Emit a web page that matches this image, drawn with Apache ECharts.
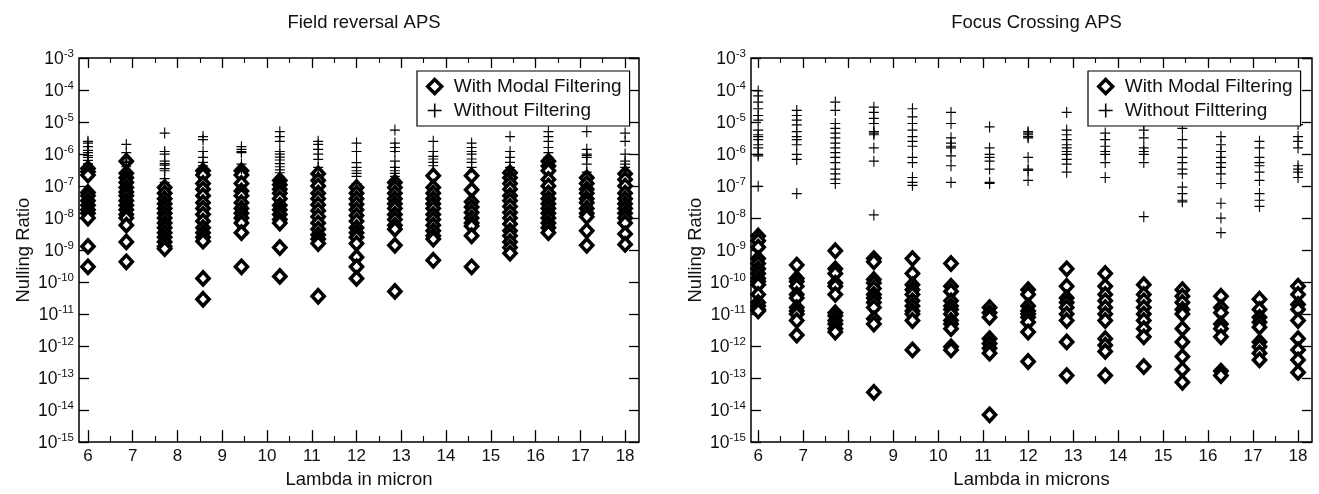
<!DOCTYPE html>
<html>
<head>
<meta charset="utf-8">
<style>
  html, body { margin: 0; padding: 0; background: #fff; }
  #chart { width: 1319px; height: 494px; }
</style>
<script src="https://cdn.jsdelivr.net/npm/echarts@6/dist/echarts.min.js"></script>
</head>
<body>
<div id="chart"></div>
<script>
// Wavelength columns (microns) shared by both panels
const lambdas = [6, 6.857, 7.714, 8.571, 9.429, 10.286, 11.143, 12, 12.857, 13.714, 14.571, 15.429, 16.286, 17.143, 18];
const xMajorTicks = [6, 7, 8, 9, 10, 11, 12, 13, 14, 15, 16, 17, 18];
const xMinorTicks = [6.5, 7.5, 8.5, 9.5, 10.5, 11.5, 12.5, 13.5, 14.5, 15.5, 16.5, 17.5];

// Field reversal APS — null ratios per wavelength column
const fieldModal = [
  [3.5e-7, 2.8e-7, 2.2e-7, 6.3e-8, 5e-8, 3.5e-8, 2.5e-8, 1.8e-8, 1.4e-8, 1e-8, 1.3e-9, 3e-10],
  [6e-7, 2.5e-7, 1.8e-7, 1.3e-7, 9e-8, 6.5e-8, 5e-8, 3.5e-8, 2.5e-8, 1.8e-8, 1.3e-8, 1e-8, 6e-9, 1.8e-9, 4.3e-10],
  [9e-8, 6e-8, 4e-8, 2.8e-8, 2e-8, 1.4e-8, 1e-8, 7e-9, 5e-9, 3.5e-9, 2.5e-9, 1.8e-9, 1.3e-9, 1.1e-9],
  [3e-7, 2.2e-7, 1.2e-7, 8e-8, 5e-8, 3e-8, 2e-8, 1.3e-8, 8e-9, 5e-9, 3.5e-9, 2.5e-9, 1.9e-9, 1.3e-10, 2.9e-11],
  [3e-7, 2.2e-7, 1.2e-7, 7e-8, 5e-8, 3e-8, 2e-8, 1.4e-8, 1e-8, 7e-9, 3.5e-9, 3e-10],
  [1.5e-7, 1.1e-7, 8e-8, 6e-8, 4e-8, 2.5e-8, 1.8e-8, 1.3e-8, 9e-9, 7e-9, 1.2e-9, 1.5e-10],
  [2.4e-7, 1.5e-7, 1e-7, 6e-8, 4e-8, 2.6e-8, 1.7e-8, 1.1e-8, 7e-9, 4.5e-9, 3e-9, 2.2e-9, 1.6e-9, 3.6e-11],
  [9e-8, 6e-8, 4e-8, 2.7e-8, 1.8e-8, 1.2e-8, 8e-9, 5e-9, 3.5e-9, 2.5e-9, 1.6e-9, 6e-10, 3e-10, 1.3e-10],
  [1.3e-7, 9e-8, 6e-8, 4e-8, 2.8e-8, 2e-8, 1.3e-8, 9e-9, 6e-9, 4.5e-9, 1.4e-9, 5.1e-11],
  [2.1e-7, 9e-8, 6e-8, 4e-8, 2.8e-8, 2e-8, 1.3e-8, 9e-9, 6e-9, 4e-9, 2.8e-9, 2.2e-9, 4.8e-10],
  [2.1e-7, 7.6e-8, 3.2e-8, 2.2e-8, 1.5e-8, 1e-8, 7e-9, 5.6e-9, 2.8e-9, 3e-10],
  [2.6e-7, 1.8e-7, 1.2e-7, 8e-8, 5e-8, 3.5e-8, 2.3e-8, 1.5e-8, 1e-8, 6.5e-9, 4e-9, 2.8e-9, 1.8e-9, 1.2e-9, 8e-10],
  [6e-7, 4.2e-7, 3e-7, 1.6e-7, 1e-7, 6e-8, 4e-8, 2.8e-8, 2e-8, 1.4e-8, 1e-8, 7e-9, 5e-9, 3.5e-9],
  [1.8e-7, 1.2e-7, 8e-8, 6e-8, 4e-8, 3e-8, 2e-8, 1.4e-8, 1.1e-8, 4e-9, 1.4e-9],
  [2.4e-7, 1.6e-7, 1e-7, 6e-8, 4e-8, 2.8e-8, 2e-8, 1.4e-8, 1e-8, 7e-9, 3.2e-9, 1.5e-9]
];
const fieldNoFilter = [
  [2.5e-6, 2.2e-6, 1.7e-6, 1.3e-6, 1.1e-6, 9e-7, 7.8e-7, 6.3e-7, 5e-7, 4e-7],
  [2e-6, 1.1e-6, 7e-7, 6e-7, 5.5e-7, 4e-7],
  [4.5e-6, 1.2e-6, 1e-6, 6e-7, 5e-7, 4.5e-7, 3.5e-7, 3e-7, 1.7e-7, 1.3e-7],
  [3.5e-6, 2.8e-6, 1.2e-6, 7.8e-7, 5.5e-7, 4.3e-7],
  [1.7e-6, 1.4e-6, 1.2e-6, 1.1e-6, 4.8e-7, 3.5e-7],
  [5e-6, 3.5e-6, 2.5e-6, 1.2e-6, 1e-6, 8e-7, 6.5e-7, 5e-7, 4e-7, 3.2e-7, 2.6e-7, 1.9e-7],
  [2.5e-6, 2e-6, 1.4e-6, 1e-6, 6.8e-7, 3.8e-7],
  [2.2e-6, 1.2e-6, 5.4e-7, 3.8e-7, 3e-7, 2.5e-7, 2e-7, 1.2e-7],
  [5.6e-6, 2.2e-6, 1.6e-6, 1.2e-6, 6e-7, 3.8e-7, 3e-7, 2.5e-7, 2e-7, 1.6e-7],
  [2.5e-6, 1.2e-6, 8.5e-7, 7e-7, 5.5e-7, 4.3e-7],
  [2.2e-6, 1.6e-6, 1.2e-6, 1e-6, 7e-7, 5.5e-7, 3.8e-7],
  [3.5e-6, 1.2e-6, 7.8e-7, 5.5e-7, 3.8e-7, 3e-7, 2.1e-7],
  [5e-6, 3.5e-6, 2.5e-6, 1.6e-6, 1.1e-6, 7.8e-7],
  [5e-6, 1.4e-6, 1e-6, 9e-7, 7.8e-7, 4.8e-7, 2.7e-7],
  [4.5e-6, 2.5e-6, 1e-6, 6e-7, 4.8e-7, 3.8e-7, 3e-7]
];

// Focus Crossing APS — null ratios per wavelength column
const focusModal = [
  [2.75e-9, 1.95e-9, 1.23e-9, 5.4e-10, 3.8e-10, 2.6e-10, 1.85e-10, 1.3e-10, 1.05e-10, 8.3e-11, 4.1e-11, 2.3e-11, 1.8e-11, 1.4e-11, 1.25e-11],
  [3.4e-10, 1.3e-10, 1.05e-10, 7.4e-11, 4.1e-11, 3.2e-11, 1.6e-11, 1.25e-11, 1e-11, 6.3e-12, 2.2e-12],
  [9.5e-10, 2.6e-10, 1.85e-10, 9.3e-11, 7.4e-11, 4.1e-11, 1.1e-11, 8.9e-12, 6.3e-12, 4.9e-12, 3.5e-12, 2.75e-12],
  [5.4e-10, 4.3e-10, 1.2e-10, 9.3e-11, 6.3e-11, 4.1e-11, 3.2e-11, 2.3e-11, 1.6e-11, 7.1e-12, 4.9e-12, 3.6e-14],
  [5.4e-10, 1.85e-10, 8.3e-11, 5.8e-11, 4.1e-11, 2.6e-11, 1.8e-11, 1.25e-11, 1e-11, 6.3e-12, 7.6e-13],
  [3.8e-10, 7.4e-11, 5.1e-11, 2.6e-11, 1.8e-11, 1.4e-11, 1e-11, 6.3e-12, 4.9e-12, 3.5e-12, 9.5e-13, 7.6e-13],
  [1.6e-11, 1.1e-11, 7.9e-12, 1.7e-12, 1.2e-12, 8.5e-13, 6e-13, 7.1e-15],
  [5.8e-11, 4.1e-11, 1.8e-11, 1.25e-11, 1e-11, 7.9e-12, 5.6e-12, 2.75e-12, 3.3e-13],
  [2.6e-10, 7.4e-11, 3.2e-11, 2.3e-11, 1.6e-11, 1e-11, 6.3e-12, 1.35e-12, 1.2e-13],
  [1.85e-10, 7.4e-11, 4.1e-11, 2.6e-11, 1.6e-11, 1e-11, 6.3e-12, 1.7e-12, 1.07e-12, 6.8e-13, 1.2e-13],
  [8.3e-11, 4.1e-11, 2.6e-11, 1.6e-11, 1e-11, 6.3e-12, 3.5e-12, 1.95e-12, 2.3e-13],
  [5.8e-11, 3.6e-11, 2.3e-11, 1.4e-11, 1e-11, 3.5e-12, 1.35e-12, 4.7e-13, 1.85e-13, 7.4e-14],
  [3.6e-11, 1.6e-11, 1.1e-11, 4.9e-12, 3.5e-12, 1.95e-12, 1.65e-13, 1.2e-13],
  [2.9e-11, 1.4e-11, 7.9e-12, 5.6e-12, 3.9e-12, 1.35e-12, 9.5e-13, 6e-13, 3.7e-13],
  [7.4e-11, 4.1e-11, 2e-11, 1.4e-11, 6.3e-12, 1.7e-12, 7.6e-13, 3.7e-13, 1.5e-13]
];
const focusNoFilter = [
  [9.3e-5, 6.6e-5, 4.2e-5, 2.6e-5, 1.6e-5, 1.15e-5, 5.6e-6, 4e-6, 3.5e-6, 2.8e-6, 1.95e-6, 1.55e-6, 9.8e-7, 8.7e-7, 9.8e-8],
  [2.3e-5, 1.6e-5, 1.15e-5, 8.1e-6, 5e-6, 3.5e-6, 2.8e-6, 1.95e-6, 9.8e-7, 6.8e-7, 5.8e-8],
  [4.2e-5, 2.3e-5, 9e-6, 6.3e-6, 4.5e-6, 3.2e-6, 2.2e-6, 1.55e-6, 1.1e-6, 7.8e-7, 5.4e-7, 3.4e-7, 2.4e-7, 1.65e-7, 1.2e-7],
  [2.9e-5, 2e-5, 1.3e-5, 9e-6, 5e-6, 4.5e-6, 4e-6, 1.55e-6, 6e-7, 1.25e-8],
  [2.6e-5, 1.45e-5, 9e-6, 5.6e-6, 3.5e-6, 2.5e-6, 1.75e-6, 7.8e-7, 5.4e-7, 1.85e-7, 1.3e-7, 1.05e-7],
  [2e-5, 9e-6, 3.2e-6, 2.2e-6, 1.75e-6, 1.55e-6, 8.7e-7, 4.3e-7, 1.3e-7],
  [7e-6, 1.55e-6, 9.8e-7, 7.8e-7, 6e-7, 3.4e-7, 1.3e-7, 1.2e-7],
  [5e-6, 4.5e-6, 4e-6, 3.5e-6, 3.2e-6, 7.8e-7, 3.4e-7, 3.1e-7, 1.5e-7],
  [2e-5, 5.6e-6, 4e-6, 2.8e-6, 1.95e-6, 1.55e-6, 1.2e-6, 9.8e-7, 6.8e-7, 4.8e-7, 2.7e-7],
  [4.5e-6, 2.8e-6, 1.75e-6, 1.2e-6, 9.8e-7, 5.4e-7, 1.85e-7],
  [9e-6, 5.6e-6, 3.2e-6, 1.55e-6, 1.2e-6, 9.8e-7, 5.4e-7, 1.1e-8],
  [6.3e-6, 2.8e-6, 1.55e-6, 7.8e-7, 5.4e-7, 3.4e-7, 2.4e-7, 9.3e-8, 5.8e-8, 3.6e-8, 3.2e-8],
  [3.5e-6, 1.95e-6, 1.2e-6, 7.8e-7, 5.4e-7, 3.8e-7, 2.4e-7, 1.2e-7, 2.9e-8, 1e-8, 3.5e-9],
  [2.5e-6, 1.55e-6, 7.8e-7, 5.4e-7, 4.3e-7, 2.7e-7, 1.5e-7, 5.8e-8, 3.6e-8, 2.3e-8],
  [8.3e-6, 3.5e-6, 2.5e-6, 1.55e-6, 4.3e-7, 3.4e-7, 2.7e-7, 1.85e-7]
];

// Pair every value with its wavelength column
function columnsToPoints(columns) {
  const pts = [];
  columns.forEach((vals, i) => vals.forEach(v => pts.push([lambdas[i], v])));
  return pts;
}

const FONT = "'Liberation Sans', Arial, Helvetica, sans-serif";
const PLUS = 'path://M0,4.45H10V5.55H0Z M4.45,0H5.55V10H4.45Z';

const panels = [
  { left: 79, width: 560, xMin: 5.8, xMax: 18.31, title: 'Field reversal APS', xName: 'Lambda in micron',
    modal: fieldModal, plain: fieldNoFilter, plainName: 'Without Filtering', legendLeft: 417 },
  { left: 751, width: 561, xMin: 5.84, xMax: 18.31, title: 'Focus Crossing APS', xName: 'Lambda in microns',
    modal: focusModal, plain: focusNoFilter, plainName: 'Without Filttering', legendLeft: 1088 }
];

const grids = [], xAxes = [], yAxes = [], series = [], legends = [], titles = [];

panels.forEach((p, gi) => {
  grids.push({ left: p.left, top: 58, width: p.width, height: 393, show: true,
    borderColor: '#000', borderWidth: 1.5, backgroundColor: 'transparent' });

  titles.push({ text: p.title, left: p.left + p.width / 2, top: 8, textAlign: 'center',
    textStyle: { fontFamily: FONT, fontSize: 18.5, fontWeight: 'normal', color: '#111' } });

  const baseX = { type: 'value', gridIndex: gi, min: p.xMin, max: p.xMax,
    splitLine: { show: false }, axisLine: { show: false } };
  xAxes.push(Object.assign({}, baseX, {
    position: 'bottom',
    name: p.xName, nameLocation: 'middle', nameGap: 22,
    nameTextStyle: { fontFamily: FONT, fontSize: 18.5, color: '#111' },
    axisTick: { inside: true, length: 12, customValues: xMajorTicks, lineStyle: { color: '#000', width: 1.3 } },
    axisLabel: { customValues: xMajorTicks, margin: 6, fontFamily: FONT, fontSize: 17, color: '#111' }
  }));
  xAxes.push(Object.assign({}, baseX, {
    position: 'bottom',
    axisTick: { inside: true, length: 6, customValues: xMinorTicks, lineStyle: { color: '#000', width: 1.1 } },
    axisLabel: { show: false }
  }));
  xAxes.push(Object.assign({}, baseX, {
    position: 'top',
    axisTick: { inside: true, length: 10, customValues: xMajorTicks, lineStyle: { color: '#000', width: 1.3 } },
    axisLabel: { show: false }
  }));
  xAxes.push(Object.assign({}, baseX, {
    position: 'top',
    axisTick: { inside: true, length: 5, customValues: xMinorTicks, lineStyle: { color: '#000', width: 1.1 } },
    axisLabel: { show: false }
  }));

  const baseY = { type: 'log', logBase: 10, gridIndex: gi, min: 1e-15, max: 1e-3, interval: 1,
    splitLine: { show: false }, axisLine: { show: false } };
  yAxes.push(Object.assign({}, baseY, {
    position: 'left',
    name: 'Nulling Ratio', nameLocation: 'middle', nameGap: 46, nameRotate: 90,
    nameTextStyle: { fontFamily: FONT, fontSize: 18.5, color: '#111' },
    axisTick: { inside: true, length: 10, lineStyle: { color: '#000', width: 1.3 } },
    axisLabel: {
      margin: 5,
      formatter: v => '{b|10}{e|' + Math.round(Math.log10(v)) + '}',
      rich: {
        b: { fontFamily: FONT, fontSize: 17.5, color: '#111', verticalAlign: 'bottom' },
        e: { fontFamily: FONT, fontSize: 11.5, color: '#111', verticalAlign: 'bottom', padding: [0, 0, 9, 0] }
      }
    }
  }));
  yAxes.push(Object.assign({}, baseY, {
    position: 'right',
    axisTick: { inside: true, length: 10, lineStyle: { color: '#000', width: 1.3 } },
    axisLabel: { show: false }
  }));

  const xi = gi * 4, yi = gi * 2;
  series.push({
    name: 'With Modal Filtering', type: 'scatter', xAxisIndex: xi, yAxisIndex: yi, z: 2,
    symbol: 'diamond', symbolSize: [12, 13],
    itemStyle: { color: '#fff', borderColor: '#000', borderWidth: 3.6, opacity: 1 },
    data: columnsToPoints(p.modal)
  });
  series.push({
    name: p.plainName, type: 'scatter', xAxisIndex: xi, yAxisIndex: yi, z: 3,
    symbol: PLUS, symbolSize: [10, 11],
    itemStyle: { color: '#000', opacity: 1 },
    data: columnsToPoints(p.plain)
  });

  legends.push({
    data: [
      { name: 'With Modal Filtering', itemStyle: { color: '#fff', borderColor: '#000', borderWidth: 3.4 } },
      { name: p.plainName, itemStyle: { color: '#000', borderWidth: 0 } }
    ],
    orient: 'vertical', left: p.legendLeft, top: 71,
    padding: [6, 8, 6, 9], itemGap: 5, itemWidth: 14, itemHeight: 14,
    backgroundColor: '#fff', borderColor: '#000', borderWidth: 1.2, borderRadius: 0,
    selectedMode: false,
    textStyle: { fontFamily: FONT, fontSize: 19, color: '#111', padding: [0, 0, 0, 7] }
  });
});

const chart = echarts.init(document.getElementById('chart'), null, { renderer: 'canvas' });
chart.setOption({
  animation: false,
  backgroundColor: '#fff',
  title: titles,
  grid: grids,
  xAxis: xAxes,
  yAxis: yAxes,
  legend: legends,
  series: series
});
</script>
</body>
</html>
